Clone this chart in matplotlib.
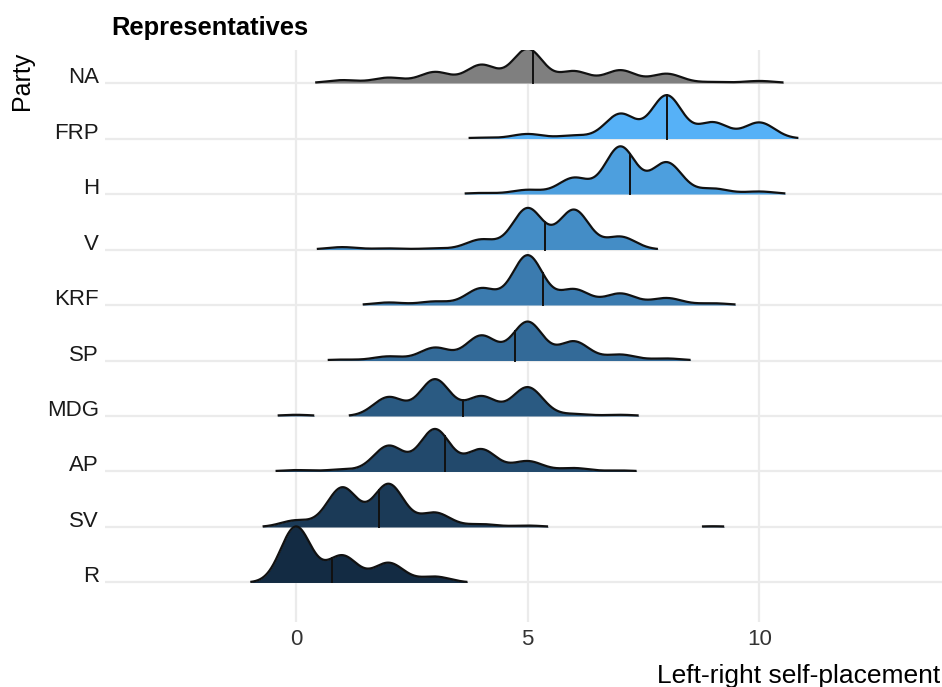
import numpy as np
import matplotlib.pyplot as plt
from matplotlib.colors import to_rgb

plt.rcParams['font.family'] = ['Liberation Sans', 'DejaVu Sans']

# answers on the 0-10 left-right scale
scale_points = np.arange(0, 11)

# parties from bottom to top
parties = ["R", "SV", "AP", "MDG", "SP", "KRF", "V", "H", "FRP", "NA"]

# relative share of representatives at each scale point 0..10
share_R = [56.2, 26.9, 19.7, 5.9, 0, 0, 0, 0, 0, 0, 0]
share_SV = [6.5, 39.0, 42.4, 14.1, 2.8, 1.4, 0, 0, 0, 0.73, 0]
share_AP = [1.4, 2.0, 25.5, 42.0, 22.0, 10.3, 3.4, 1.0, 0, 0, 0]
share_MDG = [1.2, 0, 19.0, 36.9, 19.7, 29.0, 2.0, 1.2, 0, 0, 0]
share_SP = [0, 0.9, 4.1, 12.8, 24.8, 38.6, 19.0, 5.9, 2.0, 0, 0]
share_KRF = [0, 0, 2.5, 3.5, 16.5, 49.3, 15.5, 11.4, 6.9, 1.7, 0]
share_V = [0, 2.4, 1.1, 1.1, 10.0, 41.4, 39.7, 12.8, 0, 0, 0]
share_H = [0, 0, 0, 0, 1.0, 4.0, 15.5, 45.5, 30.3, 5.2, 2.4]
share_FRP = [0, 0, 0, 0, 0.8, 4.5, 3.0, 24.5, 42.8, 15.9, 15.9]
share_NA = [0, 2.8, 5.2, 10.7, 17.6, 33.1, 11.4, 12.4, 9.0, 1.0, 2.0]

shares = [share_R, share_SV, share_AP, share_MDG, share_SP,
          share_KRF, share_V, share_H, share_FRP, share_NA]

bandwidth = 0.325
rel_min_height = 0.01
ridge_scale = 1.01

x_grid = np.linspace(-3, 14, 3401)


def density(weights):
    w = np.asarray(weights, dtype=float)
    w = w / w.sum()
    z = (x_grid[:, None] - scale_points[None, :]) / bandwidth
    return (np.exp(-0.5 * z ** 2) / (bandwidth * np.sqrt(2 * np.pi))) @ w


# colour gradient interpolated in Lab space, like ggplot's default
M = np.array([[0.4124, 0.3576, 0.1805],
              [0.2126, 0.7152, 0.0722],
              [0.0193, 0.1192, 0.9505]])
WHITE = np.array([0.95047, 1.0, 1.08883])


def to_lab(c):
    c = np.array(to_rgb(c))
    lin = np.where(c <= 0.04045, c / 12.92, ((c + 0.055) / 1.055) ** 2.4)
    xyz = M @ lin / WHITE
    f = np.where(xyz > 0.008856, np.cbrt(xyz), 7.787 * xyz + 16 / 116)
    return np.array([116 * f[1] - 16, 500 * (f[0] - f[1]), 200 * (f[1] - f[2])])


def from_lab(lab):
    fy = (lab[0] + 16) / 116
    f = np.array([fy + lab[1] / 500, fy, fy - lab[2] / 200])
    xyz = np.where(f ** 3 > 0.008856, f ** 3, (f - 16 / 116) / 7.787) * WHITE
    lin = np.linalg.solve(M, xyz)
    c = np.where(lin <= 0.0031308, 12.92 * lin, 1.055 * np.clip(lin, 0, None) ** (1 / 2.4) - 0.055)
    return tuple(np.clip(c, 0, 1))


lab_low = to_lab("#132B43")
lab_high = to_lab("#56B1F7")

dens = [density(s) for s in shares]
means = [np.sum(scale_points * np.asarray(s)) / np.sum(s) for s in shares]
gmax = max(d.max() for d in dens)
n_coloured = len(parties) - 1

fig = plt.figure(figsize=(9.42, 6.87), dpi=100)
ax = fig.add_axes([105 / 942, 65 / 687, 837 / 942, 572 / 687])

ax.set_xlim(-4.12, 13.94)
ax.set_ylim(0.288, 10.595)

for x in [0, 5, 10]:
    ax.axvline(x, color="#EBEBEB", lw=1.6, zorder=0)
for i in range(len(parties)):
    ax.axhline(i + 1, color="#EBEBEB", lw=1.6, zorder=0)

for i, (party, d, m) in enumerate(zip(parties, dens, means)):
    base = i + 1
    h = d / gmax * ridge_scale
    keep = d >= rel_min_height * gmax
    if party == "NA":
        col = "#7F7F7F"
    else:
        t = i / (n_coloured - 1)
        col = from_lab(lab_low + t * (lab_high - lab_low))
    z = 20 - i * 2
    # split the ridge into pieces where it is above the cutoff
    idx = np.flatnonzero(keep)
    pieces = np.split(idx, np.flatnonzero(np.diff(idx) > 1) + 1)
    for p in pieces:
        xs = x_grid[p]
        ys = base + h[p]
        ax.fill_between(xs, base, ys, color=col, lw=0, zorder=z)
        ax.plot(xs, ys, color="#111111", lw=1.6, zorder=z + 1,
                solid_capstyle="butt")
    hm = np.interp(m, x_grid, h)
    ax.plot([m, m], [base, base + hm], color="#111111", lw=1.4, zorder=z + 1)

ax.set_xticks([0, 5, 10])
ax.set_xticklabels(["0", "5", "10"])
ax.set_yticks(np.arange(1, len(parties) + 1))
ax.set_yticklabels(parties)
for lbl in ax.get_yticklabels():
    lbl.set_verticalalignment("baseline")
ax.tick_params(axis="y", length=0, pad=4.3, labelsize=16, colors="#1a1a1a")
ax.tick_params(axis="x", length=0, pad=5, labelsize=16, colors="#333333")
for sp in ax.spines.values():
    sp.set_visible(False)

fig.text(111 / 942, 1 - 35 / 687, "Representatives", fontsize=18.4,
         fontweight="bold", ha="left", va="baseline")
fig.text(22.5 / 942, 1 - 52 / 687, "Party", fontsize=18, rotation=90,
         ha="center", va="top")
fig.text(657 / 942, 1 - 683 / 687, "Left-right self-placement",
         fontsize=19, ha="left", va="baseline")

fig.savefig("out.png", dpi=100)
